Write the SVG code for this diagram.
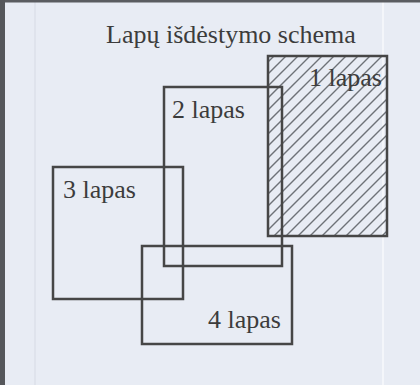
<svg xmlns="http://www.w3.org/2000/svg" width="420" height="385" viewBox="0 0 420 385">
  <defs>
    <clipPath id="clip1">
      <rect x="268" y="56" width="119" height="180"/>
    </clipPath>
    <style>
      .page { fill: none; stroke: #464646; stroke-width: 2.5; }
      .hatch { fill: none; stroke: #6e7278; stroke-width: 1.4; }
      .lbl { font-family: "Liberation Serif", "DejaVu Serif", "Times New Roman", serif; font-size: 26px; fill: #3c3c3c; }
    </style>
  </defs>
  <rect x="0" y="0" width="420" height="385" fill="#e8ecf4"/>
  <line x1="383" y1="0" x2="383" y2="385" stroke="#f4f6fa" stroke-width="2"/>
  <line x1="35" y1="0" x2="35" y2="385" stroke="#dde1ea" stroke-width="1.5"/>
  <rect x="0" y="0" width="420" height="2.5" fill="#5a5c60"/>
  <rect x="0" y="0" width="5" height="385" fill="#55575b"/>

  <text class="lbl" x="106" y="43" font-family="Liberation Serif, serif">Lapų išdėstymo schema</text>

  <g id="lapas1">
    <path class="hatch" clip-path="url(#clip1)" d="M290 40L70 260M302 40L82 260M314 40L94 260M326 40L106 260M338 40L118 260M350 40L130 260M362 40L142 260M374 40L154 260M386 40L166 260M398 40L178 260M410 40L190 260M422 40L202 260M434 40L214 260M446 40L226 260M458 40L238 260M470 40L250 260M482 40L262 260M494 40L274 260M506 40L286 260M518 40L298 260M530 40L310 260M542 40L322 260M554 40L334 260M566 40L346 260M578 40L358 260"/>
    <rect class="page" x="268" y="56" width="119" height="180"/>
    <text class="lbl" x="309" y="86" font-family="Liberation Serif, serif">1 lapas</text>
  </g>
  <g id="lapas2">
    <rect class="page" x="164" y="87" width="118" height="179"/>
    <text class="lbl" x="172" y="118" font-family="Liberation Serif, serif">2 lapas</text>
  </g>
  <g id="lapas3">
    <rect class="page" x="53" y="167" width="130" height="132"/>
    <text class="lbl" x="63" y="198" font-family="Liberation Serif, serif">3 lapas</text>
  </g>
  <g id="lapas4">
    <rect class="page" x="142" y="246" width="150" height="98"/>
    <text class="lbl" x="208" y="328" font-family="Liberation Serif, serif">4 lapas</text>
  </g>
  <g id="connectors"/>
</svg>
